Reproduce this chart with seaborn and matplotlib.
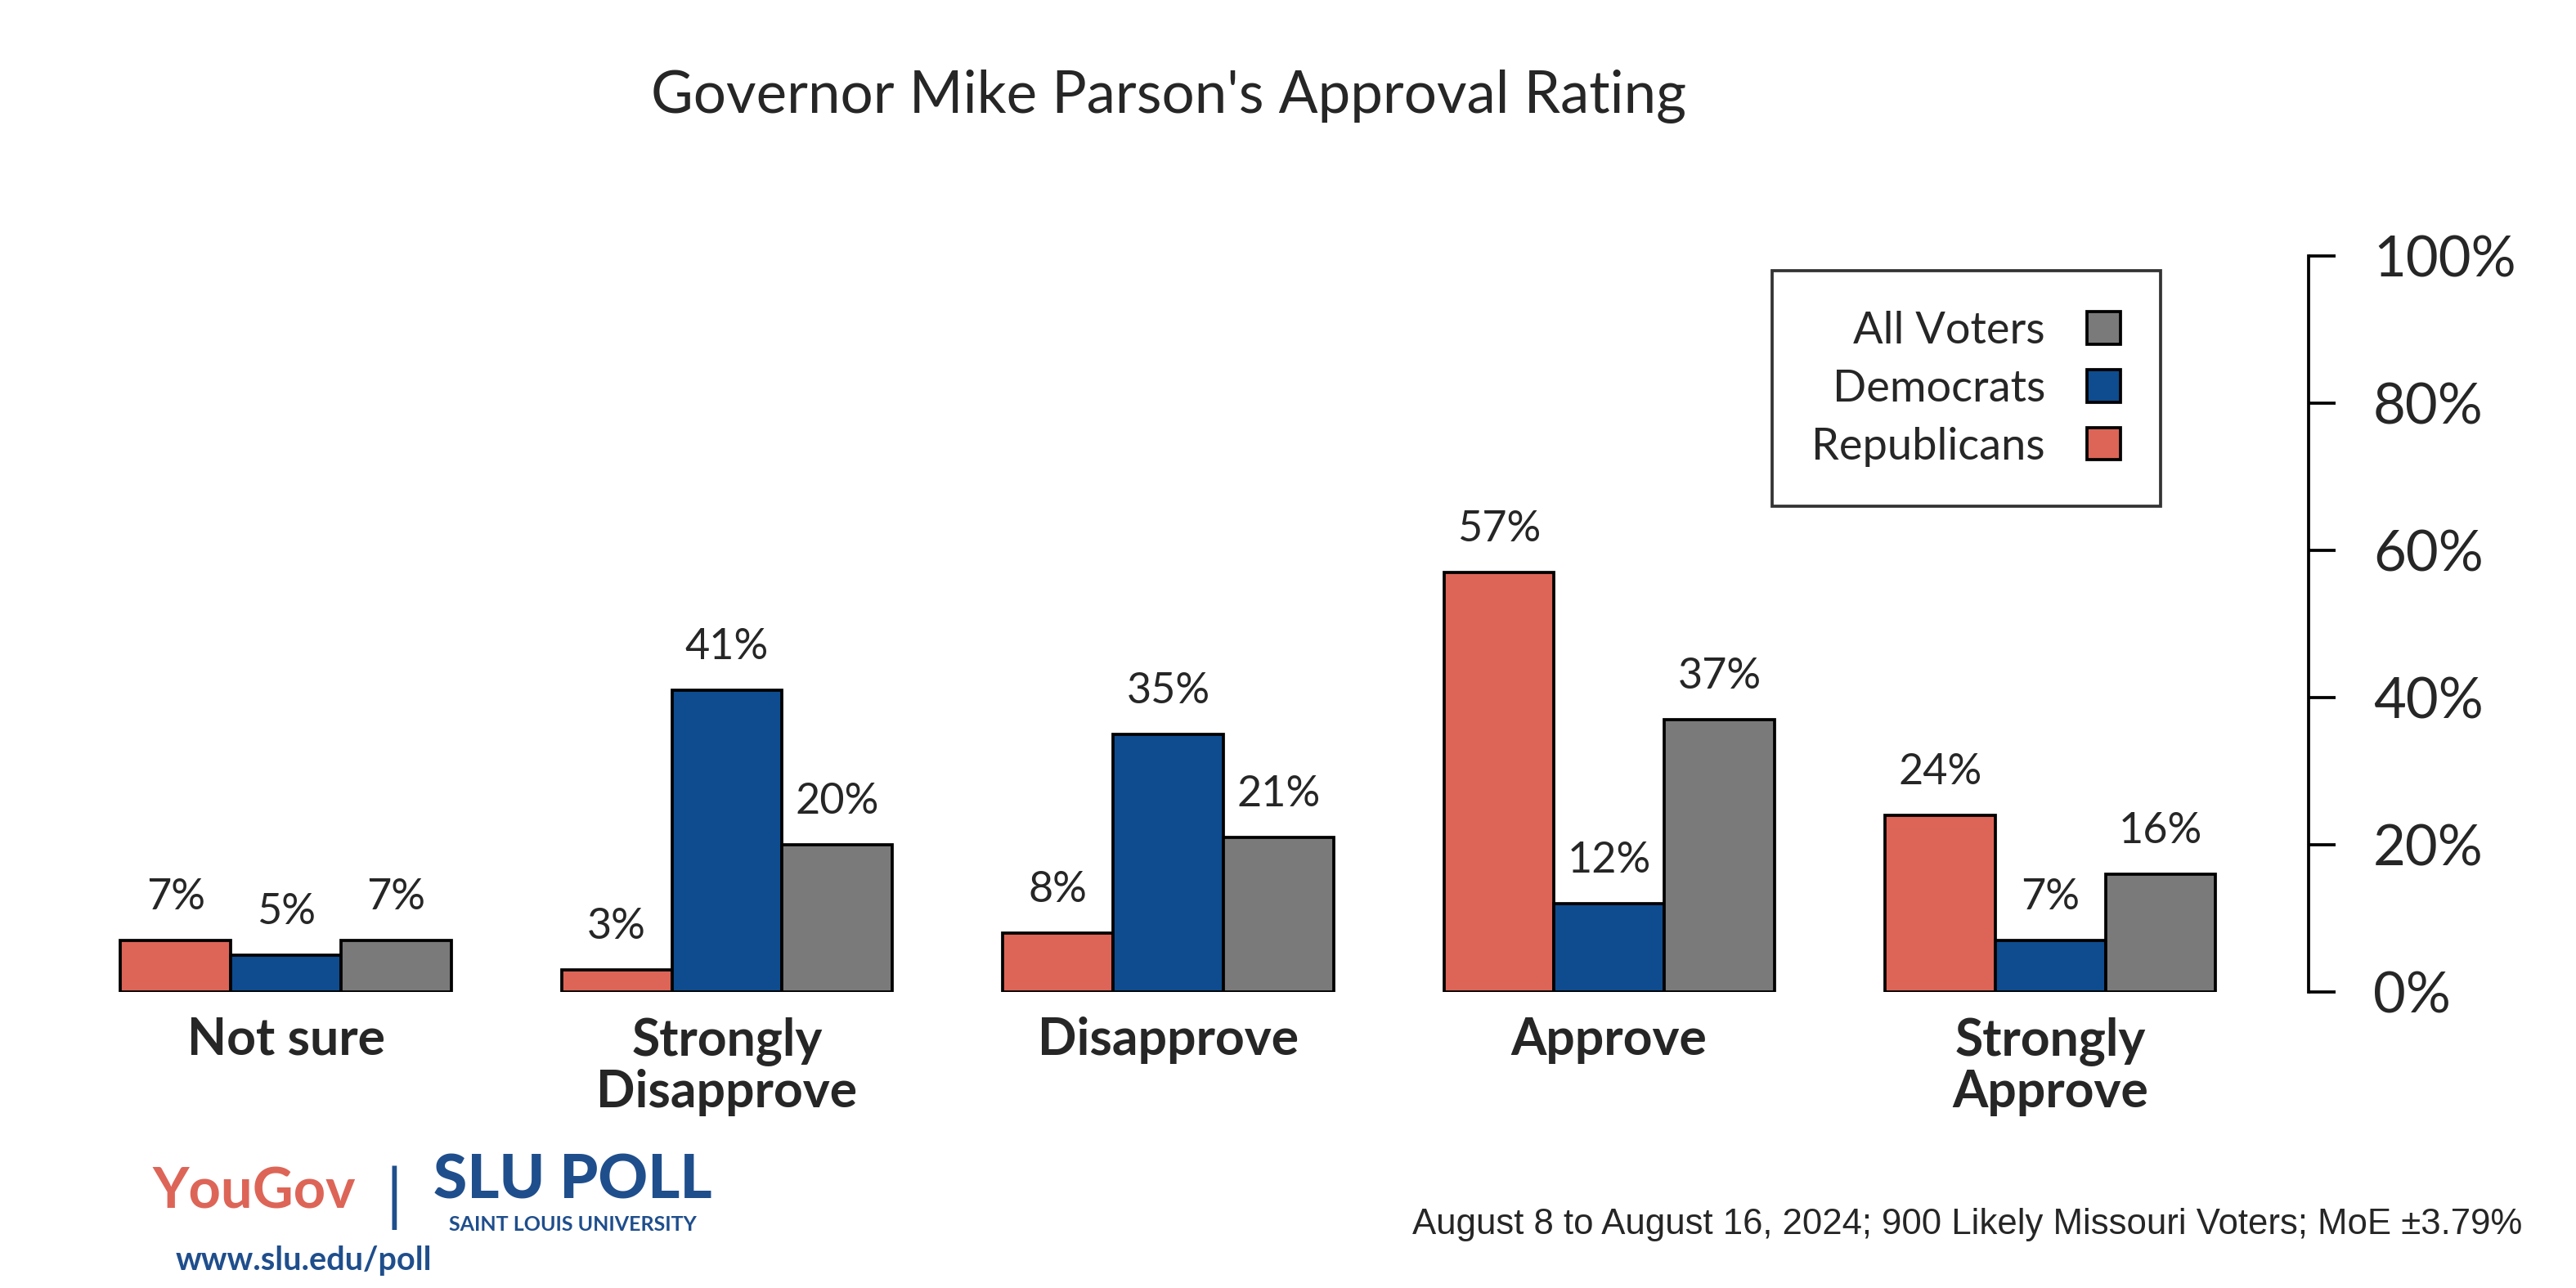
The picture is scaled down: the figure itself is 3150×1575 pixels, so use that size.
import matplotlib
matplotlib.use("Agg")
import matplotlib.pyplot as plt
import seaborn as sns
import pandas as pd
from matplotlib.patches import Patch

# categories as laid out in the reference, left to right
responses = ["Not sure", "Strongly\nDisapprove", "Disapprove", "Approve", "Strongly\nApprove"]
groups = ["Republicans", "Democrats", "All Voters"]
republicans = [7, 3, 8, 57, 24]
democrats = [5, 41, 35, 12, 7]
all_voters = [7, 20, 21, 37, 16]
yticks = [0, 20, 40, 60, 80, 100]
colors = {"Republicans": "#dd6557", "Democrats": "#0e4c8f", "All Voters": "#7a7a7a"}

title = "Governor Mike Parson's Approval Rating"
footnote = "August 8 to August 16, 2024; 900 Likely Missouri Voters; MoE \u00b13.79%"

df = pd.DataFrame({
    "response": responses * 3,
    "group": [g for g in groups for _ in responses],
    "pct": republicans + democrats + all_voters,
})

sns.set_theme(style="white")
plt.rcParams["font.family"] = ["Lato", "DejaVu Sans"]

fig = plt.figure(figsize=(10.5, 5.25), dpi=300)
ax = fig.add_axes([0.0168, 0.2296, 0.8793, 0.5714])

sns.barplot(data=df, x="response", y="pct", hue="group", order=responses,
            hue_order=groups, palette=colors, width=0.75, saturation=1,
            edgecolor="black", linewidth=0.9, legend=False, ax=ax)

for cont, vals in zip(ax.containers, [republicans, democrats, all_voters]):
    ax.bar_label(cont, labels=[f"{v}%" for v in vals], padding=7, fontsize=12.5)

ax.set_xlim(-0.55, 4.585)
ax.set_ylim(0, 100)
ax.set_xlabel("")
ax.set_ylabel("")

# y axis on the right, R style
ax.yaxis.tick_right()
ax.set_yticks(yticks)
ax.set_yticklabels([f"{t}%" for t in yticks], fontsize=16.5)
ax.tick_params(axis="y", length=8, width=0.9, pad=11, color="black", direction="out")
ax.tick_params(axis="x", length=0, pad=7)
for lab in ax.get_xticklabels():
    lab.set_fontsize(15)
    lab.set_fontweight("bold")
    lab.set_linespacing(1.1)
for s in ["top", "left", "bottom"]:
    ax.spines[s].set_visible(False)
ax.spines["right"].set_linewidth(0.9)
ax.spines["right"].set_color("black")
ax.spines["right"].set_bounds(0, 100)

handles = [Patch(facecolor=colors[g], edgecolor="black", linewidth=0.9) for g in groups[::-1]]
leg = ax.legend(handles, groups[::-1], loc="upper right", bbox_to_anchor=(0.9347, 0.98),
                markerfirst=False, fontsize=13, frameon=True, fancybox=False,
                edgecolor="black", handlelength=0.75, handleheight=0.75,
                borderpad=0.9, labelspacing=0.4, handletextpad=0.95, borderaxespad=0)
leg.get_frame().set_linewidth(0.9)

fig.text(0.4535, 0.925, title, ha="center", va="center", fontsize=17)
fig.text(0.979, 0.049, footnote, ha="right", va="center", fontsize=10.5,
         family=["Liberation Sans Narrow", "Liberation Sans"])

# logo block
fig.text(0.2222, 0.083, "SLU POLL", ha="center", va="center", fontsize=18,
         fontweight="black", color="#1f4e8c")
fig.text(0.2222, 0.049, "SAINT LOUIS UNIVERSITY", ha="center", va="center", fontsize=6,
         fontweight="bold", color="#1f4e8c")
fig.text(0.153, 0.070, "|", ha="center", va="center", fontsize=20, color="#1f4e8c")
fig.text(0.0985, 0.074, "YouGov", ha="center", va="center", fontsize=16.5,
         fontweight="bold", color="#dd6557")
fig.text(0.118, 0.021, "www.slu.edu/poll", ha="center", va="center", fontsize=9.5,
         fontweight="bold", color="#1f4e8c")

fig.savefig("out.png", dpi=300)
